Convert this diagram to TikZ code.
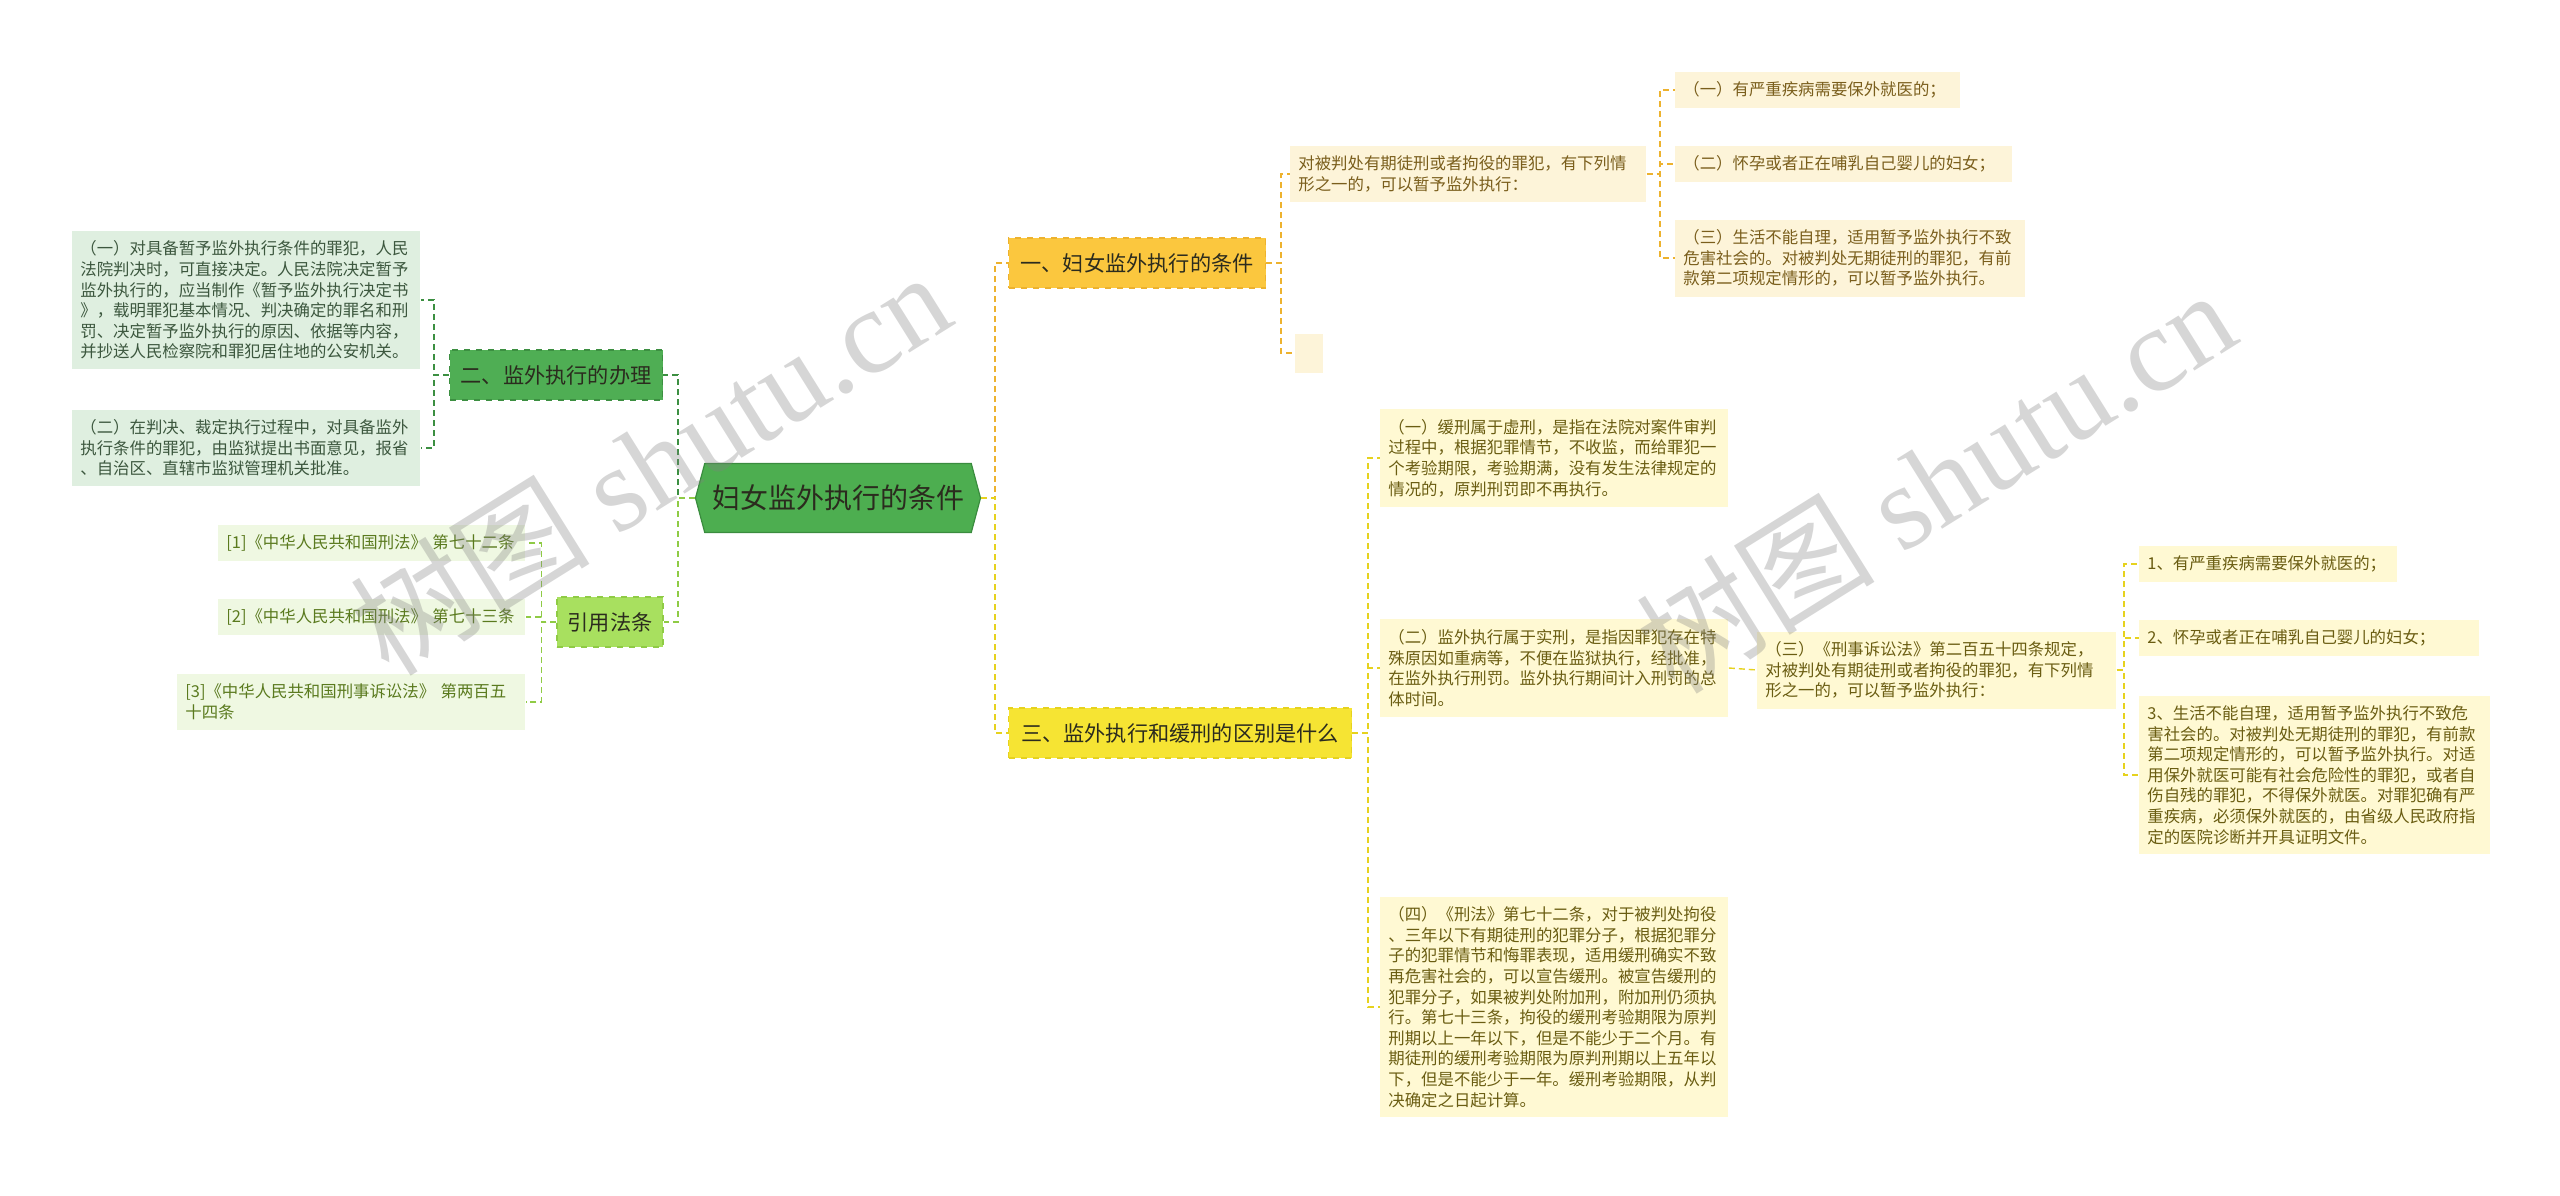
\documentclass[tikz,border=0pt]{standalone}
\usepackage{fontspec}
\setmainfont{Noto Sans CJK SC}
\newfontfamily\wmserif{Liberation Serif}
\usetikzlibrary{shapes.symbols}

\definecolor{rootfill}{HTML}{4DAE50}
\definecolor{rootline}{HTML}{3A8C3E}
\definecolor{onefill}{HTML}{FBC73E}
\definecolor{oneline}{HTML}{EDB22E}
\definecolor{twofill}{HTML}{4FAE54}
\definecolor{twoline}{HTML}{3C8F41}
\definecolor{threefill}{HTML}{F6E433}
\definecolor{threeline}{HTML}{E6D21E}
\definecolor{lawfill}{HTML}{A8E05F}
\definecolor{lawline}{HTML}{8FCB45}
\definecolor{creamfill}{HTML}{FDF4D9}
\definecolor{creamink}{HTML}{7A5E1C}
\definecolor{paleyfill}{HTML}{FFF9D3}
\definecolor{paleyink}{HTML}{6A5D12}
\definecolor{sagefill}{HTML}{DFEFE0}
\definecolor{sageink}{HTML}{3C573E}
\definecolor{limefill}{HTML}{EFF8E2}
\definecolor{limeink}{HTML}{5A7A1E}
\definecolor{topicink}{HTML}{2B2B1E}

\begin{document}
\begin{tikzpicture}[x=0.5pt,y=-0.5pt,
    rootbox/.style={signal, signal to=west and east, signal pointer angle=150,
        fill=rootfill, draw=rootline, line width=0.6pt, inner sep=0pt,
        minimum width=142.5pt, minimum height=34.5pt,
        font=\fontsize{14}{16}\selectfont, text=topicink},
    topic/.style 2 args={rectangle, fill=#1, draw=#2, dashed, line width=0.6pt,
        inner sep=0pt, minimum height=25pt,
        font=\fontsize{10.6}{12}\selectfont, text=topicink},
    leaf/.style 2 args={rectangle, fill=#1, text=#2, anchor=west, align=left,
        inner xsep=4pt, inner ysep=5pt, font=\fontsize{8.2}{10.3}\selectfont},
    link/.style={draw=#1, dashed, dash pattern=on 3pt off 2pt, line width=0.9pt},
    twig/.style={draw=#1, dashed, dash pattern=on 3pt off 2pt, line width=0.7pt},
    wmark/.style={font=\fontsize{60}{60}\selectfont, text=gray, opacity=0.32, rotate=32}]

    \useasboundingbox (0,0) rectangle (2560,1195);

    % centre and main topics
    \node[rootbox] (root) at (838,498) {妇女监外执行的条件};
    \node[topic={onefill}{oneline}, minimum width=128.5pt] (one) at (1137,263) {一、妇女监外执行的条件};
    \node[topic={threefill}{threeline}, minimum width=171.5pt] (three) at (1180,733) {三、监外执行和缓刑的区别是什么};
    \node[topic={twofill}{twoline}, minimum width=106.5pt] (two) at (556,375) {二、监外执行的办理};
    \node[topic={lawfill}{lawline}, minimum width=53pt] (law) at (610,622) {引用法条};

    % branch one
    \node[leaf={creamfill}{creamink}, text width=170pt] (oneA) at (1290,174)
        {对被判处有期徒刑或者拘役的罪犯，有下列情\\形之一的，可以暂予监外执行：};
    \node[leaf={creamfill}{creamink}, minimum width=14pt, minimum height=19.5pt, inner sep=0pt] (oneB) at (1295,353) {};
    \node[leaf={creamfill}{creamink}, text width=134.5pt] (oneA1) at (1675,90)
        {（一）有严重疾病需要保外就医的；};
    \node[leaf={creamfill}{creamink}, text width=160.5pt] (oneA2) at (1675,164)
        {（二）怀孕或者正在哺乳自己婴儿的妇女；};
    \node[leaf={creamfill}{creamink}, text width=167pt] (oneA3) at (1675,258)
        {（三）生活不能自理，适用暂予监外执行不致\\危害社会的。对被判处无期徒刑的罪犯，有前\\款第二项规定情形的，可以暂予监外执行。};

    % branch three
    \node[leaf={paleyfill}{paleyink}, text width=166pt] (thrA) at (1380,458)
        {（一）缓刑属于虚刑，是指在法院对案件审判\\过程中，根据犯罪情节，不收监，而给罪犯一\\个考验期限，考验期满，没有发生法律规定的\\情况的，原判刑罚即不再执行。};
    \node[leaf={paleyfill}{paleyink}, text width=166pt] (thrB) at (1380,668)
        {（二）监外执行属于实刑，是指因罪犯存在特\\殊原因如重病等，不便在监狱执行，经批准，\\在监外执行刑罚。监外执行期间计入刑罚的总\\体时间。};
    \node[leaf={paleyfill}{paleyink}, text width=171.5pt] (thrC) at (1757,670)
        {（三）《刑事诉讼法》第二百五十四条规定，\\对被判处有期徒刑或者拘役的罪犯，有下列情\\形之一的，可以暂予监外执行：};
    \node[leaf={paleyfill}{paleyink}, text width=166pt] (thrD) at (1380,1007)
        {（四）《刑法》第七十二条，对于被判处拘役\\、三年以下有期徒刑的犯罪分子，根据犯罪分\\子的犯罪情节和悔罪表现，适用缓刑确实不致\\再危害社会的，可以宣告缓刑。被宣告缓刑的\\犯罪分子，如果被判处附加刑，附加刑仍须执\\行。第七十三条，拘役的缓刑考验期限为原判\\刑期以上一年以下，但是不能少于二个月。有\\期徒刑的缓刑考验期限为原判刑期以上五年以\\下，但是不能少于一年。缓刑考验期限，从判\\决确定之日起计算。};
    \node[leaf={paleyfill}{paleyink}, text width=121pt] (thrC1) at (2139,564)
        {1、有严重疾病需要保外就医的；};
    \node[leaf={paleyfill}{paleyink}, text width=162pt] (thrC2) at (2139,638)
        {2、怀孕或者正在哺乳自己婴儿的妇女；};
    \node[leaf={paleyfill}{paleyink}, text width=167.5pt] (thrC3) at (2139,775)
        {3、生活不能自理，适用暂予监外执行不致危\\害社会的。对被判处无期徒刑的罪犯，有前款\\第二项规定情形的，可以暂予监外执行。对适\\用保外就医可能有社会危险性的罪犯，或者自\\伤自残的罪犯，不得保外就医。对罪犯确有严\\重疾病，必须保外就医的，由省级人民政府指\\定的医院诊断并开具证明文件。};

    % branch two
    \node[leaf={sagefill}{sageink}, text width=166pt] (twoA) at (72,300)
        {（一）对具备暂予监外执行条件的罪犯，人民\\法院判决时，可直接决定。人民法院决定暂予\\监外执行的，应当制作《暂予监外执行决定书\\》，载明罪犯基本情况、判决确定的罪名和刑\\罚、决定暂予监外执行的原因、依据等内容，\\并抄送人民检察院和罪犯居住地的公安机关。};
    \node[leaf={sagefill}{sageink}, text width=166pt] (twoB) at (72,448)
        {（二）在判决、裁定执行过程中，对具备监外\\执行条件的罪犯，由监狱提出书面意见，报省\\、自治区、直辖市监狱管理机关批准。};

    % cited laws
    \node[leaf={limefill}{limeink}, text width=145.5pt] (lawA) at (218,543)
        {[1]《中华人民共和国刑法》 第七十二条};
    \node[leaf={limefill}{limeink}, text width=145.5pt] (lawB) at (218,617)
        {[2]《中华人民共和国刑法》 第七十三条};
    \node[leaf={limefill}{limeink}, text width=166pt] (lawC) at (177,702)
        {[3]《中华人民共和国刑事诉讼法》 第两百五\\十四条};

    % connectors
    \draw[link=oneline] (root.east) -- ++(14,0) |- (one.west);
    \draw[link=threeline] (root.east) -- ++(14,0) |- (three.west);
    \draw[link=twoline] (root.west) -- ++(-17,0) |- (two.east);
    \draw[link=lawline] (root.west) -- ++(-17,0) |- (law.east);

    \foreach \leafname in {oneA,oneB}
        \draw[twig=oneline] (one.east) -- ++(15,0) |- (\leafname.west);
    \foreach \leafname in {oneA1,oneA2,oneA3}
        \draw[twig=oneline] (oneA.east) -- ++(13,0) |- (\leafname.west);
    \foreach \leafname in {thrA,thrB,thrD}
        \draw[twig=threeline] (three.east) -- ++(16,0) |- (\leafname.west);
    \draw[twig=threeline] (thrB.east) -- (thrC.west);
    \foreach \leafname in {thrC1,thrC2,thrC3}
        \draw[twig=threeline] (thrC.east) -- ++(7,0) |- (\leafname.west);
    \foreach \leafname in {twoA,twoB}
        \draw[twig=twoline] (two.west) -- ++(-15,0) |- (\leafname.east);
    \foreach \leafname in {lawA,lawB,lawC}
        \draw[twig=lawline] (law.west) -- ++(-15,0) |- (\leafname.east);

    % watermark
    \node[wmark] (markL) at (650,462) {树图 {\wmserif shutu.cn}};
    \node[wmark] (markR) at (1935,480) {树图 {\wmserif shutu.cn}};
\end{tikzpicture}
\end{document}
